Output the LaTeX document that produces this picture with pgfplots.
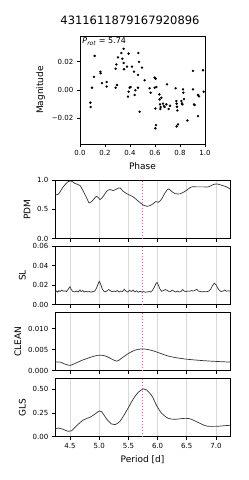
\documentclass[border=0pt]{standalone}
\usepackage{pgfplots}
\pgfplotsset{compat=1.18}
\usepackage{fontspec}
\setmainfont{DejaVu Sans}
\pgfplotsset{
  base/.style={scale only axis, anchor=south west, axis line style={line width=0.8pt},
    tick align=outside, xtick pos=left, ytick pos=left, major tick length=3.2pt,
    tick style={black, line width=0.8pt}, scaled ticks=false,
    ticklabel style={font=\fontsize{7}{8}\selectfont},
    label style={font=\fontsize{9}{10}\selectfont}, clip=true},
  panel/.style={base, width=175pt, height=58.5pt, xmin=4.243, xmax=7.24,
    xtick={4.5,5,5.5,6,6.5,7}, xticklabels={}, xmajorgrids,
    grid style={gray!30, line width=0.8pt}},
  curve/.style={black!80, line width=0.7pt},
  prot/.style={magenta!70, dotted, line width=1pt}
}
\begin{document}
\begin{tikzpicture}
\useasboundingbox (0pt,0pt) rectangle (249pt,480pt);
\node[font=\fontsize{11.5}{13}\selectfont] at (130pt,460pt) {4311611879167920896};
% top: phased light curve
\begin{axis}[base, at={(80pt,336pt)}, width=125pt, height=108pt,
  xmin=0, xmax=1, ymin=-0.038, ymax=0.038,
  xtick={0,0.2,0.4,0.6,0.8,1}, xticklabels={0.0,0.2,0.4,0.6,0.8,1.0},
  ytick={-0.02,0,0.02}, yticklabels={−0.02,0.00,0.02},
  xlabel={Phase}, ylabel={Magnitude}]
\addplot[only marks, mark=*, mark size=1.0pt, black] coordinates {
(0.083,-0.0089) (0.085,-0.0120) (0.096,0.0016) (0.117,0.0240) (0.112,0.0092)
(0.165,0.0118) (0.163,0.0129) (0.176,0.0049) (0.213,0.0056) (0.213,0.0024)
(0.285,0.0016) (0.296,0.0035) (0.285,0.0150) (0.291,0.0180) (0.304,0.0230)
(0.331,0.0260) (0.339,0.0220) (0.349,0.0290) (0.349,0.0190) (0.376,0.0165)
(0.389,0.0256) (0.352,0.0146) (0.384,-0.0047) (0.389,-0.0012) (0.397,0.0016)
(0.405,0.0021) (0.416,0.0165) (0.432,0.0129) (0.437,-0.0035) (0.443,-0.0002)
(0.464,0.0106) (0.467,0.0260) (0.472,0.0198) (0.496,0.0158) (0.477,-0.0153)
(0.464,0.0016) (0.517,0.0068) (0.557,0.0012) (0.565,-0.0019) (0.597,0.0087)
(0.605,0.0080) (0.597,0.0016) (0.611,0.0021) (0.603,-0.0130) (0.608,-0.0247)
(0.603,-0.0270) (0.635,-0.0031) (0.637,-0.0066) (0.640,-0.0101) (0.645,-0.0120)
(0.643,-0.0134) (0.651,-0.0054) (0.664,-0.0096) (0.672,-0.0113) (0.677,-0.0120)
(0.691,-0.0101) (0.696,0.0040) (0.709,-0.0134) (0.720,-0.0111) (0.765,0.0012)
(0.771,-0.0078) (0.773,-0.0096) (0.776,-0.0118) (0.779,-0.0144) (0.773,-0.0256)
(0.784,-0.0242) (0.811,-0.0078) (0.816,-0.0094) (0.824,0.0005) (0.827,-0.0019)
(0.832,-0.0064) (0.819,-0.0101) (0.859,-0.0214) (0.904,0.0134) (0.904,0.0005)
(0.912,-0.0101) (0.917,-0.0106) (0.944,-0.0035) (0.952,-0.0045) (0.944,-0.0184)
(0.984,0.0139) (0.989,-0.0012)
};
\node[anchor=north west, inner sep=1pt, font=\fontsize{8}{9}\selectfont] at (rel axis cs:0.01,0.995)
  {\textit{P}\textsubscript{\textit{rot}} = 5.74};
\end{axis}
% PDM
\begin{axis}[panel, at={(55pt,241.3pt)}, ymin=0, ymax=1,
  ytick={0,0.5,1}, yticklabels={0.0,0.5,1.0}, ylabel={PDM}]
\addplot[prot] coordinates {(5.74,0) (5.74,1)};
\addplot[curve, smooth, tension=0.4] coordinates {
(4.243,0.754) (4.30,0.76) (4.386,0.89) (4.47,0.977) (4.53,0.983) (4.586,0.943)
(4.67,0.91) (4.728,0.81) (4.785,0.697) (4.83,0.61) (4.89,0.657) (4.957,0.726)
(5.014,0.669) (5.07,0.726) (5.128,0.811) (5.185,0.84) (5.24,0.823) (5.30,0.851)
(5.356,0.869) (5.41,0.81) (5.50,0.754) (5.584,0.714) (5.67,0.64) (5.744,0.583)
(5.81,0.554) (5.87,0.566) (5.927,0.60) (5.97,0.634) (6.018,0.623) (6.07,0.68)
(6.127,0.783) (6.184,0.851) (6.24,0.81) (6.298,0.771) (6.384,0.766) (6.47,0.81)
(6.526,0.851) (6.584,0.886) (6.67,0.886) (6.78,0.886) (6.87,0.886) (6.954,0.926)
(7.01,0.937) (7.097,0.914) (7.18,0.886) (7.24,0.851)
};
\end{axis}
% SL
\begin{axis}[panel, at={(55pt,175.3pt)}, ymin=0, ymax=0.06,
  ytick={0,0.02,0.04,0.06}, yticklabels={0.00,0.02,0.04,0.06}, ylabel={SL}]
\addplot[prot] coordinates {(5.74,0) (5.74,0.06)};
\addplot[curve] coordinates {
(4.243,0.0125) (4.27,0.0140) (4.29,0.0128) (4.31,0.0145) (4.33,0.0135) (4.36,0.0150)
(4.39,0.0138) (4.42,0.0142) (4.44,0.0135) (4.47,0.0160) (4.50,0.0185) (4.52,0.0155)
(4.55,0.0135) (4.58,0.0132) (4.61,0.0140) (4.64,0.0130) (4.67,0.0152) (4.69,0.0135)
(4.72,0.0145) (4.74,0.0130) (4.77,0.0138) (4.80,0.0132) (4.83,0.0135) (4.86,0.0128)
(4.89,0.0135) (4.92,0.0138) (4.95,0.0165) (4.98,0.0210) (5.00,0.0240) (5.02,0.0220)
(5.05,0.0165) (5.08,0.0138) (5.10,0.0132) (5.13,0.0140) (5.16,0.0155) (5.19,0.0145)
(5.22,0.0132) (5.25,0.0140) (5.28,0.0135) (5.31,0.0145) (5.34,0.0130) (5.37,0.0140)
(5.40,0.0135) (5.43,0.0158) (5.46,0.0138) (5.49,0.0130) (5.52,0.0148) (5.55,0.0135)
(5.58,0.0150) (5.61,0.0130) (5.64,0.0142) (5.67,0.0128) (5.70,0.0138) (5.73,0.0130)
(5.76,0.0135) (5.79,0.0128) (5.82,0.0130) (5.85,0.0135) (5.88,0.0130) (5.91,0.0145)
(5.94,0.0175) (5.97,0.0215) (5.99,0.0228) (6.01,0.0205) (6.04,0.0160) (6.07,0.0138)
(6.10,0.0145) (6.13,0.0155) (6.16,0.0148) (6.19,0.0138) (6.22,0.0135) (6.25,0.0150)
(6.28,0.0138) (6.31,0.0130) (6.34,0.0140) (6.37,0.0130) (6.40,0.0135) (6.43,0.0155)
(6.46,0.0138) (6.49,0.0135) (6.52,0.0140) (6.55,0.0138) (6.58,0.0145) (6.61,0.0140)
(6.64,0.0148) (6.67,0.0158) (6.70,0.0140) (6.73,0.0135) (6.76,0.0132) (6.79,0.0135)
(6.82,0.0132) (6.85,0.0135) (6.88,0.0140) (6.91,0.0160) (6.94,0.0195) (6.97,0.0220)
(7.00,0.0205) (7.03,0.0170) (7.06,0.0145) (7.09,0.0135) (7.12,0.0140) (7.15,0.0150)
(7.18,0.0138) (7.21,0.0142) (7.24,0.0140)
};
\end{axis}
% CLEAN
\begin{axis}[panel, at={(55pt,109.3pt)}, ymin=0, ymax=0.0139,
  ytick={0,0.005,0.01}, yticklabels={0.000,0.005,0.010}, ylabel={CLEAN}]
\addplot[prot] coordinates {(5.74,0) (5.74,0.0139)};
\addplot[curve, smooth, tension=0.5] coordinates {
(4.243,0.00204) (4.33,0.00204) (4.414,0.00157) (4.50,0.00126) (4.586,0.00173)
(4.70,0.00243) (4.84,0.00314) (4.957,0.00361) (5.04,0.00369) (5.128,0.00338)
(5.24,0.00259) (5.31,0.00228) (5.385,0.00298) (5.50,0.00408) (5.61,0.00487)
(5.727,0.00518) (5.81,0.0051) (5.927,0.00471) (6.04,0.00416) (6.21,0.00338)
(6.44,0.00283) (6.67,0.00251) (6.90,0.00228) (7.126,0.00212) (7.24,0.00204)
};
\end{axis}
% GLS
\begin{axis}[panel, at={(55pt,43.3pt)}, ymin=0, ymax=0.615,
  ytick={0,0.25,0.5}, yticklabels={0.00,0.25,0.50}, ylabel={GLS},
  xticklabels={4.5,5.0,5.5,6.0,6.5,7.0}, xlabel={Period [d]}]
\addplot[prot] coordinates {(5.74,0) (5.74,0.615)};
\addplot[curve, smooth, tension=0.5] coordinates {
(4.243,0.081) (4.30,0.091) (4.386,0.077) (4.47,0.056) (4.53,0.063) (4.614,0.116)
(4.728,0.176) (4.84,0.204) (4.93,0.239) (5.00,0.27) (5.04,0.264) (5.128,0.186)
(5.21,0.134) (5.27,0.127) (5.356,0.162) (5.47,0.274) (5.584,0.397) (5.67,0.467)
(5.756,0.503) (5.81,0.492) (5.90,0.432) (5.984,0.327) (6.07,0.246) (6.184,0.193)
(6.30,0.183) (6.41,0.19) (6.50,0.193) (6.58,0.183) (6.70,0.148) (6.84,0.112)
(7.01,0.109) (7.155,0.116) (7.24,0.12)
};
\end{axis}
\end{tikzpicture}
\end{document}
